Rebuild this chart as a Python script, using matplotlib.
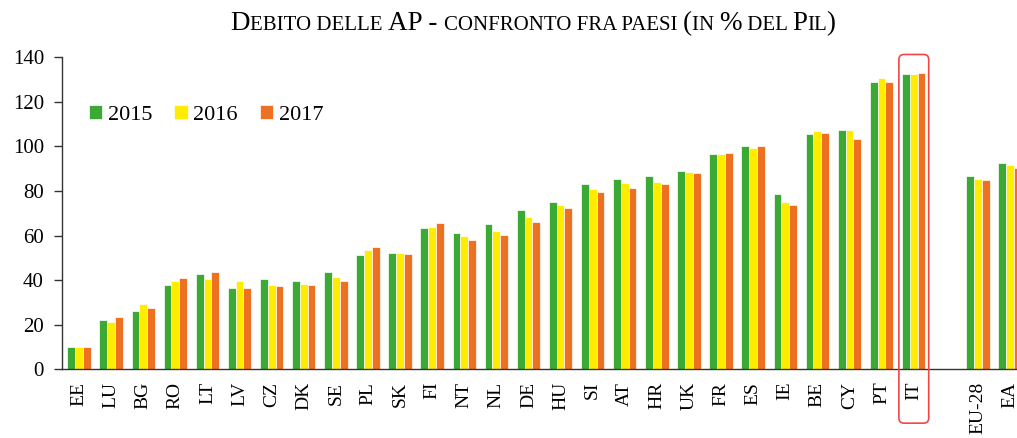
import matplotlib.pyplot as plt
from matplotlib.patches import FancyBboxPatch
import numpy as np

###================ Data =================###

countries = ["EE", "LU", "BG", "RO", "LT", "LV", "CZ", "DK", "SE", "PL", "SK",
             "FI", "NT", "NL", "DE", "HU", "SI", "AT", "HR", "UK", "FR", "ES",
             "IE", "BE", "CY", "PT", "IT", "", "EU-28", "EA"]
years = ["2015", "2016", "2017"]

debt_2015 = [10.1, 22.2, 26.0, 37.9, 42.6, 36.6, 40.5, 39.6, 43.8, 51.1, 52.3,
             63.4, 61.0, 65.4, 71.3, 75.1, 83.0, 85.4, 86.6, 89.1, 96.5, 100.0,
             78.8, 105.6, 107.5, 128.8, 132.5, np.nan, 86.7, 92.7]
debt_2016 = [10.0, 21.0, 29.2, 39.5, 40.6, 39.6, 37.8, 38.4, 41.4, 53.5, 52.3,
             64.0, 59.7, 62.2, 68.3, 73.9, 81.1, 83.6, 84.2, 88.5, 96.5, 99.4,
             75.1, 106.9, 107.5, 130.6, 132.5, np.nan, 85.4, 91.5]
debt_2017 = [10.0, 23.4, 27.4, 40.8, 43.8, 36.6, 37.2, 37.8, 39.6, 54.9, 51.7,
             65.8, 57.9, 60.4, 65.9, 72.5, 79.4, 81.2, 83.0, 87.9, 97.1, 100.0,
             73.9, 106.2, 103.2, 128.8, 133.1, np.nan, 84.8, 90.3]

colors = ["#3AAA35", "#FFEC00", "#EE7121"]
highlight = "IT"

###================ Helpers =================###

def small_caps_title(fig, pieces, x, y, big=19.5, small=15):
    """Draw a small-caps title from (text, is_big) pieces, centred at x (fig fraction)"""
    renderer = fig.canvas.get_renderer()
    texts = []
    for s, is_big in pieces:
        t = fig.text(0, y, s, fontsize=big if is_big else small,
                     family="Liberation Serif", va="baseline", ha="left")
        t.set_transform(None)
        texts.append(t)
    # measure in pixels and lay out
    widths = [t.get_window_extent(renderer).width for t in texts]
    total = sum(widths)
    W = fig.bbox.width
    H = fig.bbox.height
    x0 = W * x - total / 2
    for t, w in zip(texts, widths):
        t.set_position((x0, H * y))
        x0 += w
    return texts

###================ Plot =================###

fig = plt.figure(figsize=(10.17, 4.38), dpi=100)
ax = fig.add_axes([0.061, 0.157, 0.939, 0.712])

x = np.arange(len(countries))
width = 0.243
for i, (vals, c, lab) in enumerate(zip([debt_2015, debt_2016, debt_2017], colors, years)):
    ax.bar(x + (i - 1) * width, vals, width, color=c, edgecolor="white",
           linewidth=0.5, label=lab)

ax.set_xlim(-0.53, 29.22)
ax.set_ylim(0, 140)
ax.set_yticks(range(0, 141, 20))
ax.set_xticks(x)
ax.set_xticklabels(countries, rotation=90, family="Liberation Serif", fontsize=14,
                   va="top", ha="center")
ax.tick_params(axis="x", length=0, pad=9)
ax.tick_params(axis="y", length=6, pad=7, width=1, color="#333333")
for lbl in ax.get_yticklabels():
    lbl.set_family("Liberation Serif")
    lbl.set_fontsize(15)

for side in ["top", "right"]:
    ax.spines[side].set_visible(False)
for side in ["left", "bottom"]:
    ax.spines[side].set_color("#333333")
    ax.spines[side].set_linewidth(1)

ax.legend(loc="center left", bbox_to_anchor=(0.028, 0.815), ncol=3, frameon=False,
          prop={"family": "Liberation Serif", "size": 16}, handlelength=0.6,
          handleheight=0.6, handletextpad=0.25, columnspacing=1.0, borderpad=0,
          borderaxespad=0)

# rounded red box around Italy
it = countries.index(highlight)
px_x = 1 / 32.1
px_y = 140 / 312.0
box = FancyBboxPatch((it - 0.46, -24.2), 0.93, 165.5,
                     boxstyle="round,pad=0,rounding_size=0.16",
                     mutation_aspect=px_y / px_x, fill=False,
                     edgecolor="#F0474A", linewidth=1.2, clip_on=False, zorder=5)
ax.add_patch(box)

title_pieces = [("D", True), ("EBITO DELLE ", False), ("AP - ", True),
                ("CONFRONTO FRA PAESI ", False), ("(", True), ("IN ", False),
                ("%", True), (" DEL ", False), ("P", True), ("IL", False), (")", True)]
small_caps_title(fig, title_pieces, x=533 / 1017, y=(438 - 30) / 438)

fig.savefig("out.png", dpi=100)
